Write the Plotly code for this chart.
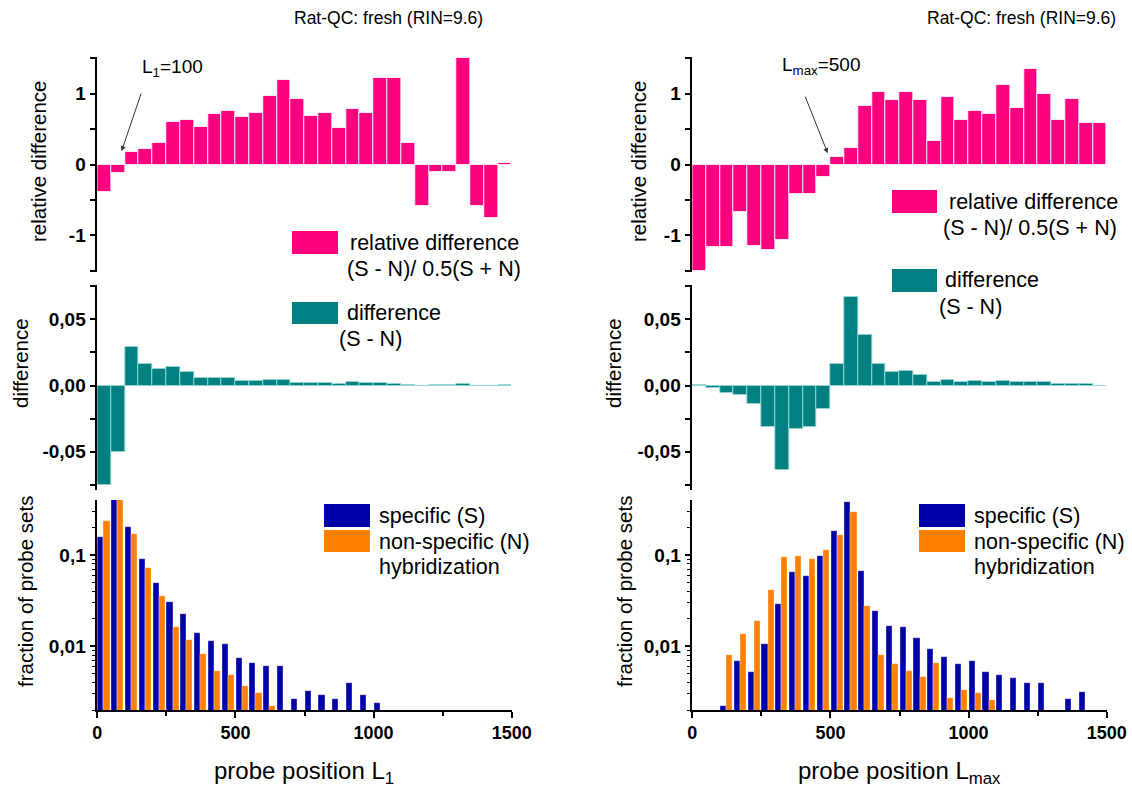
import math
import plotly.graph_objects as go

W, H = 1132, 791
FONT = "Liberation Sans, Arial, sans-serif"

PINK = "#FF0080"
TEAL = "#008080"
BLUE = "#0000A8"
ORANGE = "#FF8000"

# probe-position bins (width 50), bin centres
bin_width = 50
bin_centers = [25 + 50 * i for i in range(30)]

# ---- left column: probe position L1 ----
rel_diff_L1 = [-0.39, -0.12, 0.17, 0.22, 0.30, 0.60, 0.63, 0.53, 0.71, 0.75,
               0.67, 0.73, 0.97, 1.20, 0.93, 0.69, 0.73, 0.52, 0.78, 0.73,
               1.22, 1.22, 0.30, -0.59, -0.10, -0.10, 1.50, -0.59, -0.75, 0.02]
diff_L1 = [-0.075, -0.050, 0.029, 0.016, 0.0126, 0.0139, 0.0106, 0.0058, 0.0058, 0.0058,
           0.0033, 0.0033, 0.0038, 0.0043, 0.0018, 0.0018, 0.0018, 0.0013, 0.0025, 0.0018,
           0.0018, 0.0010, 0.0005, -0.0003, 0.0003, 0.0002, 0.0013, -0.0003, -0.0003, 0.0002]
spec_L1 = [0.159, 0.42, 0.20, 0.0896, 0.0489, 0.0305, 0.0223, 0.0137, 0.01125, 0.0105,
           0.00726, 0.0065, 0.00598, 0.00598, 0.00255, 0.0031, 0.0028, 0.00255, 0.00389, 0.0028,
           0.00229, None, None, None, None, None, None, None, None, None]
nonspec_L1 = [0.238, 0.42, 0.169, 0.072, 0.0357, 0.0163, 0.0117, 0.00803, 0.00531, 0.00472,
              0.00357, 0.00299, 0.0021, None, None, None, None, None, None, None,
              None, None, None, None, None, None, None, None, None, None]

# ---- right column: probe position Lmax ----
rel_diff_Lmax = [-1.51, -1.16, -1.17, -0.67, -1.15, -1.21, -1.07, -0.41, -0.42, -0.17,
                 0.11, 0.23, 0.83, 1.03, 0.91, 1.02, 0.91, 0.33, 0.96, 0.63,
                 0.76, 0.71, 1.12, 0.80, 1.35, 0.99, 0.63, 0.93, 0.58, 0.58]
diff_Lmax = [0.0002, -0.0018, -0.006, -0.007, -0.014, -0.031, -0.064, -0.033, -0.031, -0.0174,
             0.016, 0.067, 0.038, 0.016, 0.010, 0.011, 0.0076, 0.0025, 0.0045, 0.0028,
             0.0035, 0.0028, 0.0033, 0.0023, 0.0030, 0.0025, 0.0010, 0.0008, 0.0008, -0.0003]
spec_Lmax = [None, None, 0.0021, 0.00679, 0.00518, 0.0105, 0.029, 0.0645, 0.0588, 0.0967,
             0.182, 0.376, 0.0667, 0.0240, 0.01644, 0.0163, 0.01213, 0.00912, 0.00757, 0.00629,
             0.00679, 0.00518, 0.00468, 0.00437, 0.00389, 0.00389, None, 0.00253, 0.00307, None]
nonspec_Lmax = [None, None, 0.00783, 0.01343, 0.01866, 0.0416, 0.0951, 0.0984, 0.0911, 0.1145,
                0.166, 0.299, 0.0273, 0.00783, 0.00629, 0.00531, 0.00453, 0.0065, 0.00262, 0.00318,
                0.00299, 0.00245, None, None, None, None, None, None, None, None]

title_text = "Rat-QC: fresh (RIN=9.6)"
x_titles = ["probe position L<sub>1</sub>", "probe position L<sub>max</sub>"]
rel_ticks = [-1, 0, 1]
rel_ticklabels = ["-1", "0", "1"]
rel_minor = [-1.5, -0.5, 0.5, 1.5]
diff_ticks = [-0.05, 0, 0.05]
diff_ticklabels = ["-0,05", "0,00", "0,05"]
diff_minor = [-0.075, -0.025, 0.025, 0.075]
frac_ticks = [0.01, 0.1]
frac_ticklabels = ["0,01", "0,1"]
frac_minor = [0.002, 0.003, 0.004, 0.005, 0.006, 0.007, 0.008, 0.009,
              0.02, 0.03, 0.04, 0.05, 0.06, 0.07, 0.08, 0.09, 0.2, 0.3]
x_ticks = [0, 500, 1000, 1500]
x_minor = [250, 750, 1250]


def px(x):
    return x / W


def py(y):
    return 1 - y / H


fig = go.Figure()

columns = [
    dict(rel=rel_diff_L1, diff=diff_L1, spec=spec_L1, non=nonspec_L1, x0=97.3, x1=511.7),
    dict(rel=rel_diff_Lmax, diff=diff_Lmax, spec=spec_Lmax, non=nonspec_Lmax, x0=692.3, x1=1106.7),
]
rows_px = [(57, 272), (285, 490), (500, 710)]

layout = {}
for c, col in enumerate(columns):
    for r in range(3):
        idx = c * 3 + r + 1
        xa = "x" if idx == 1 else f"x{idx}"
        ya = "y" if idx == 1 else f"y{idx}"
        xkey = "xaxis" if idx == 1 else f"xaxis{idx}"
        ykey = "yaxis" if idx == 1 else f"yaxis{idx}"
        top, bot = rows_px[r]
        bottom_row = r == 2
        layout[xkey] = dict(
            domain=[px(col["x0"]), px(col["x1"])], range=[0, 1500], anchor=ya,
            automargin=False,
            visible=bottom_row, showline=bottom_row, linecolor="black", linewidth=1.5,
            ticks="outside" if bottom_row else "", ticklen=6, tickwidth=1.5, tickcolor="black",
            tickvals=x_ticks, ticktext=[str(v) for v in x_ticks],
            tickfont=dict(family=FONT, size=18, color="black", weight="bold"),
            minor=dict(tickvals=x_minor, ticks="outside", ticklen=4,
                       tickwidth=1.5, tickcolor="black"),
            showgrid=False, zeroline=False, fixedrange=True,
        )
        yax = dict(
            domain=[py(bot), py(top)], anchor=xa, automargin=False,
            showline=True, linecolor="black",
            linewidth=1.5, ticks="outside", ticklen=6, tickwidth=1.5, tickcolor="black",
            tickfont=dict(family=FONT, size=19, color="black", weight="bold"),
            showgrid=False, zeroline=False, fixedrange=True,
        )
        if r == 0:
            yax.update(range=[-1.52, 1.52], tickvals=rel_ticks, ticktext=rel_ticklabels,
                       minor=dict(tickvals=rel_minor, ticks="outside", ticklen=6,
                                  tickwidth=1.5, tickcolor="black"))
            fig.add_trace(go.Bar(x=bin_centers, y=col["rel"], width=bin_width,
                                 marker=dict(color=PINK, line=dict(color="rgba(255,255,255,0.8)", width=1)),
                                 xaxis=xa, yaxis=ya, showlegend=False))
        elif r == 1:
            yax.update(range=[-0.079, 0.076], tickvals=diff_ticks, ticktext=diff_ticklabels,
                       minor=dict(tickvals=diff_minor, ticks="outside", ticklen=6,
                                  tickwidth=1.5, tickcolor="black"))
            fig.add_trace(go.Bar(x=bin_centers, y=col["diff"], width=bin_width,
                                 marker=dict(color=TEAL, line=dict(color="rgba(150,215,215,0.9)", width=1)),
                                 xaxis=xa, yaxis=ya, showlegend=False))
        else:
            yax.update(type="log", range=[math.log10(0.002), math.log10(0.4)],
                       tickvals=frac_ticks, ticktext=frac_ticklabels,
                       minor=dict(tickvals=frac_minor, ticks="outside", ticklen=4,
                                  tickwidth=1.2, tickcolor="black"))
            fig.add_trace(go.Bar(x=bin_centers, y=col["spec"], width=22, offset=-23.5,
                                 base=0.0001,
                                 marker=dict(color=BLUE, line=dict(color="rgba(255,255,255,0.6)", width=0.6)),
                                 xaxis=xa, yaxis=ya, showlegend=False))
            fig.add_trace(go.Bar(x=bin_centers, y=col["non"], width=22, offset=-1.5,
                                 base=0.0001,
                                 marker=dict(color=ORANGE, line=dict(color="rgba(255,255,255,0.6)", width=0.6)),
                                 xaxis=xa, yaxis=ya, showlegend=False))
        layout[ykey] = yax

annotations = []
shapes = []


def text(x, y, s, size=20, xanchor="left", angle=0, weight="normal"):
    annotations.append(dict(x=px(x), y=py(y), xref="paper", yref="paper", text=s,
                            showarrow=False, xanchor=xanchor, yanchor="middle",
                            textangle=angle,
                            font=dict(family=FONT, size=size, color="black", weight=weight)))


def swatch(x0, y0, x1, y1, color):
    shapes.append(dict(type="rect", xref="paper", yref="paper",
                       x0=px(x0), x1=px(x1), y0=py(y1), y1=py(y0),
                       fillcolor=color, line=dict(width=0)))


# column titles and x-axis titles
text(388, 18, title_text, size=17.5, xanchor="center")
text(1021, 18, title_text, size=17.5, xanchor="center")
text(304, 772, x_titles[0], size=24, xanchor="center")
text(899, 772, x_titles[1], size=24, xanchor="center")

# y-axis titles
text(38, 162, "relative difference", size=20.5, angle=-90, xanchor="center")
text(20, 363, "difference", size=20.5, angle=-90, xanchor="center")
text(25, 592, "fraction of probe sets", size=20.5, angle=-90, xanchor="center")
text(638, 162, "relative difference", size=20.5, angle=-90, xanchor="center")
text(613, 363, "difference", size=20.5, angle=-90, xanchor="center")
text(624, 592, "fraction of probe sets", size=20.5, angle=-90, xanchor="center")

LEG = 21.5

# legends, left column
swatch(292, 231, 338, 254, PINK)
text(348, 243, "relative difference", size=LEG)
text(345, 269, "(S - N)/ 0.5(S + N)", size=LEG)
swatch(292, 302, 338, 324, TEAL)
text(345, 313, "difference", size=LEG)
text(337, 339, "(S - N)", size=LEG)
swatch(324, 504, 370, 527, BLUE)
swatch(324, 530, 370, 552, ORANGE)
text(377, 516, "specific (S)", size=LEG)
text(377, 542, "non-specific (N)", size=LEG)
text(377, 567, "hybridization", size=LEG)

# legends, right column
swatch(892, 190, 937, 213, PINK)
text(947, 202, "relative difference", size=LEG)
text(941, 228, "(S - N)/ 0.5(S + N)", size=LEG)
swatch(892, 269, 937, 292, TEAL)
text(943, 280, "difference", size=LEG)
text(937, 307, "(S - N)", size=LEG)
swatch(919, 504, 965, 527, BLUE)
swatch(919, 530, 965, 552, ORANGE)
text(972, 516, "specific (S)", size=LEG)
text(972, 542, "non-specific (N)", size=LEG)
text(972, 567, "hybridization", size=LEG)

# threshold markers
text(172, 68, "L<sub>1</sub>=100", size=19, xanchor="center")
annotations.append(dict(x=88, y=0.19, xref="x", yref="y", ax=20, ay=-59, text="",
                        showarrow=True, arrowhead=2, arrowsize=1, arrowwidth=1,
                        arrowcolor="#333333"))
text(821, 66, "L<sub>max</sub>=500", size=19, xanchor="center")
annotations.append(dict(x=490, y=0.16, xref="x4", yref="y4", ax=-23, ay=-58, text="",
                        showarrow=True, arrowhead=2, arrowsize=1, arrowwidth=1,
                        arrowcolor="#333333"))

fig.update_layout(
    width=W, height=H, margin=dict(l=0, r=0, t=0, b=0, autoexpand=False),
    paper_bgcolor="white", plot_bgcolor="white",
    barmode="overlay", bargap=0,
    annotations=annotations, shapes=shapes,
    font=dict(family=FONT, color="black"),
    **layout,
)

fig.write_html("out.html")
